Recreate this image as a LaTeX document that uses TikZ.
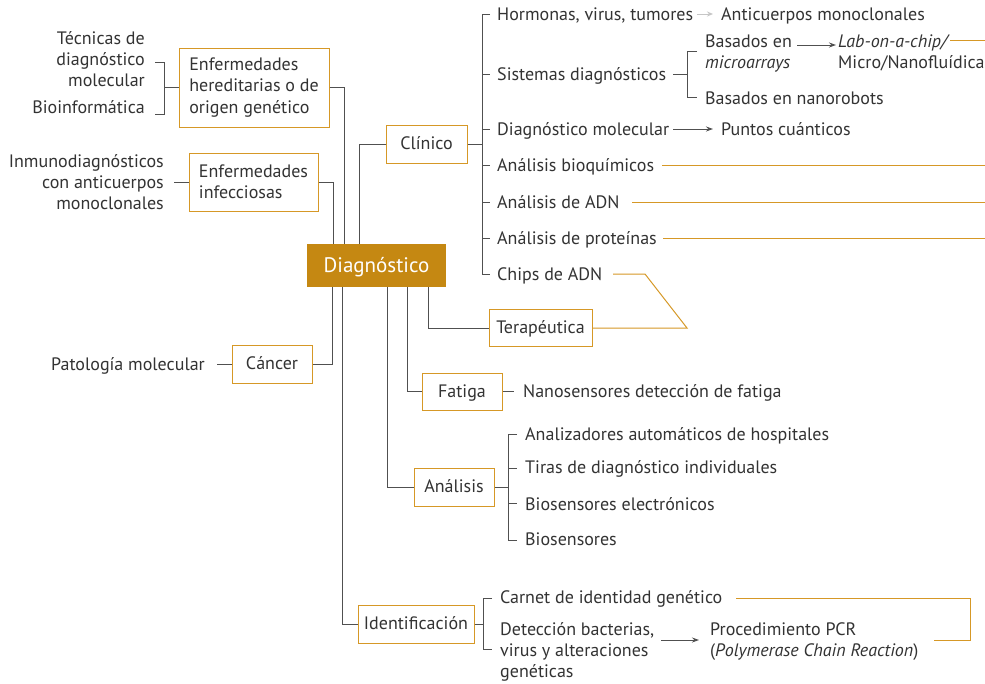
\documentclass[tikz,border=0pt]{standalone}
\usepackage{fontspec}
\setmainfont{PT Sans}
\usetikzlibrary{arrows.meta}
\definecolor{orng}{RGB}{214,152,38}
\definecolor{dfill}{RGB}{197,136,18}
\definecolor{txt}{RGB}{51,51,51}
\definecolor{ln}{RGB}{80,80,80}
\newcommand\mlr[1]{\begin{tabular}[t]{@{}r@{}}#1\end{tabular}}
\newcommand\mll[1]{\begin{tabular}[t]{@{}l@{}}#1\end{tabular}}
\begin{document}
\begin{tikzpicture}[x=1pt,y=-1pt,
 every node/.style={font=\fontsize{18}{21.3}\selectfont, text=txt, inner sep=0pt},
 box/.style={draw=orng, line width=1pt, fill=white},
 sbox/.style={box, text height=13pt, text depth=2pt},
 lbl/.style={anchor=base west},
 lblr/.style={anchor=base east},
 conn/.style={draw=ln, line width=1pt},
 oline/.style={draw=orng, line width=1pt},
 arr/.style={conn, -{Stealth[length=7pt,width=5pt]}},
]
\useasboundingbox (0,0) rectangle (985,683);
\fill[white] (0,0) rectangle (985,683);

% boxes
\node[box, minimum width=150, minimum height=79, align=left] (her) at (254,87.5) {Enfermedades\\hereditarias o de\\origen genético};
\node[box, minimum width=129, minimum height=58, align=left] (inf) at (253.5,182) {Enfermedades\\infecciosas};
\node[fill=dfill, minimum width=139, minimum height=43, text=white, text height=15pt, text depth=2pt, font=\fontsize{21}{24}\selectfont] (diag) at (376.5,265.5) {Diagnóstico};
\node[sbox, minimum width=81, minimum height=38] (clin) at (426.5,144) {Clínico};
\node[sbox, minimum width=103, minimum height=37] (ter) at (540.5,328) {Terapéutica};
\node[sbox, minimum width=80, minimum height=38] (canc) at (272,364) {Cáncer};
\node[sbox, minimum width=80, minimum height=37] (fat) at (462,391.5) {Fatiga};
\node[sbox, minimum width=80, minimum height=38] (anal) at (454,487) {Análisis};
\node[sbox, minimum width=116, minimum height=38] (ident) at (416,624) {Identificación};

% left texts
\node[lblr] (tec) at (145,44) {\mlr{Técnicas de\\diagnóstico\\molecular}};
\node[lblr] (bio) at (145,113) {Bioinformática};
\node[lblr] (inm) at (164,167) {\mlr{Inmunodiagnósticos\\con anticuerpos\\monoclonales}};
\node[lblr] (pat) at (205,370) {Patología molecular};

% clinico items
\node[lbl] (hor) at (497,20) {Hormonas, virus, tumores};
\node[lbl] (acm) at (721,20) {Anticuerpos monoclonales};
\node[lbl] (sis) at (497,80) {Sistemas diagnósticos};
\node[lbl] (bme) at (705,47) {\mll{Basados en\\\emph{microarrays}}};
\node[lbl] (lab) at (838,47) {\mll{\emph{Lab-on-a-chip/}\\Micro/Nanofluídica}};
\node[lbl] (bnr) at (705,104) {Basados en nanorobots};
\node[lbl] (dmo) at (497,135) {Diagnóstico molecular};
\node[lbl] (pcu) at (721,135) {Puntos cuánticos};
\node[lbl] (abq) at (497,171) {Análisis bioquímicos};
\node[lbl] (adn) at (497,208) {Análisis de ADN};
\node[lbl] (apr) at (497,244) {Análisis de proteínas};
\node[lbl] (chp) at (497,280) {Chips de ADN};

% fatiga / analisis / identificacion
\node[lbl] (nano) at (523,397) {Nanosensores detección de fatiga};
\node[lbl] (az1) at (525,440) {Analizadores automáticos de hospitales};
\node[lbl] (az2) at (525,473) {Tiras de diagnóstico individuales};
\node[lbl] (az3) at (525,510) {Biosensores electrónicos};
\node[lbl] (az4) at (525,545) {Biosensores};
\node[lbl] (car) at (500,603) {Carnet de identidad genético};
\node[lbl] (det) at (500,635) {\mll{Detección bacterias,\\virus y alteraciones\\genéticas}};
\node[lbl] (pcr) at (710,635) {\mll{Procedimiento PCR\\(\emph{Polymerase Chain Reaction})}};

% left connectors
\draw[conn] (155,62) -| (164,114) -- (155,114);
\draw[conn] (her.west) -- (164,87.5);
\draw[conn] (inf.west) -- ++(-15,0);
\draw[conn] (canc.west) -- ++(-15,0);

% diagnostico connectors
\draw[conn] (her.east) -| ([xshift=-32.5]diag.north);
\draw[conn] (inf.east) -| ([xshift=-43.5]diag.north);
\draw[conn] ([xshift=-17.5]diag.north) |- (clin.west);
\draw[conn] ([xshift=-44.5]diag.south) |- (canc.east);
\draw[conn] ([xshift=-34.5]diag.south) |- (ident.west);
\draw[conn] ([xshift=10.5]diag.south) |- (anal.west);
\draw[conn] ([xshift=30.5]diag.south) |- (fat.west);
\draw[conn] ([xshift=51.5]diag.south) |- (ter.west);

% clinico spine
\draw[conn] (clin.east) -- (482,144);
\draw[conn] (490,14) -| (482,274) -- (490,274);
\foreach \yy in {74,129,165,202,238} \draw[conn] (482,\yy) -- (490,\yy);
\draw[draw=gray!45, line width=1pt, -{Stealth[length=6pt,width=5pt]}] (697,14) -- (713,14);
\draw[conn] (673,74) -- (687,74);
\draw[conn] (697,51) -| (687,97) -- (697,97);
\draw[arr] (797,45) -- (836,45);
\draw[arr] (673,129) -- (713,129);
\draw[oline] (950,40) -- (985,40);
\draw[oline] (662,165) -- (985,165);
\draw[oline] (632,202) -- (985,202);
\draw[oline] (663,238) -- (985,238);
\draw[oline] (613,274) -- (645,274) -- (687,328) -- (ter.east);

% fatiga
\draw[conn] (fat.east) -- ++(11,0);
% analisis spine
\draw[conn] (anal.east) -- (508,487);
\draw[conn] (517,434) -| (508,540) -- (517,540);
\foreach \yy in {468,503} \draw[conn] (508,\yy) -- (517,\yy);
% identificacion spine
\draw[conn] (ident.east) -- (483,624);
\draw[conn] (492,598) -| (483,649) -- (492,649);
\draw[oline] (736,598) -| (970,640) -- (934,640);
\draw[arr] (661,640) -- (699,640);
\end{tikzpicture}
\end{document}
